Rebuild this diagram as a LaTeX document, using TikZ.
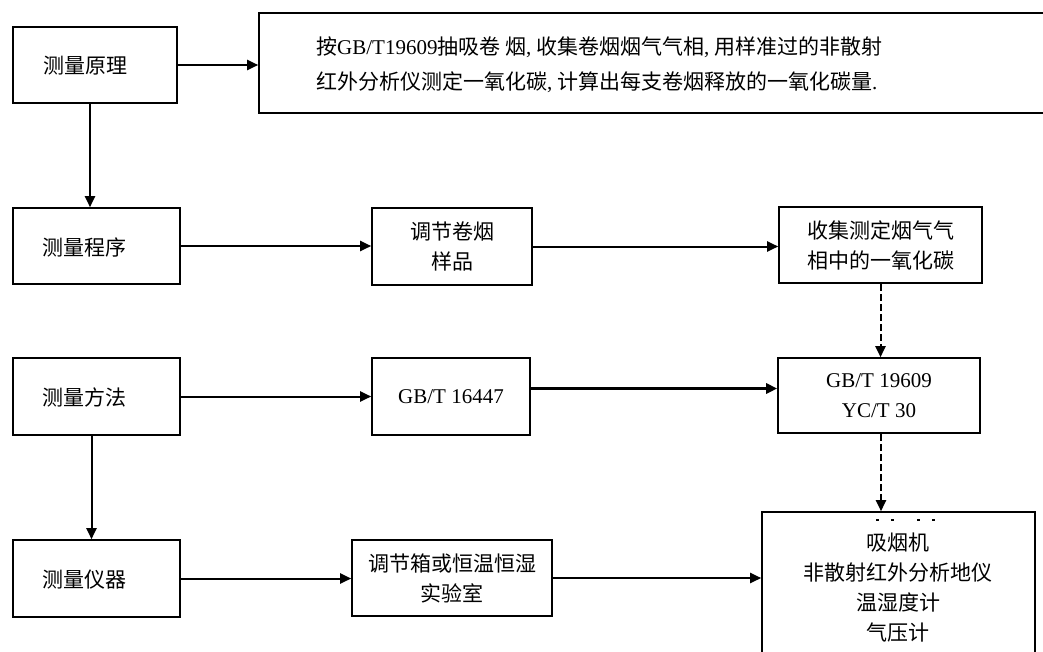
\documentclass[tikz,border=0pt]{standalone}
\usepackage{fontspec}
\setmainfont{Liberation Serif}
\newfontfamily\cjk{Noto Sans CJK SC}
\newcommand\lat[1]{{\rmfamily #1}}
\usetikzlibrary{arrows.meta}
\tikzset{
  boxnode/.style={draw, line width=1.6pt, inner sep=0pt, align=center,
    font=\cjk\fontsize{21}{30}\selectfont},
  txt/.style={inner sep=0pt, align=center, font=\cjk\fontsize{21}{30}\selectfont},
  conn/.style={line width=2pt, -{Triangle[length=11pt,width=10pt]}},
  dashconn/.style={conn, dash pattern=on 7pt off 3pt},
  thickconn/.style={line width=3.4pt, -{Triangle[length=11pt,width=10pt]}}
}
\begin{document}
\begin{tikzpicture}[x=1pt,y=-1pt]
\useasboundingbox (0,0) rectangle (1043,651);
\clip (0,0) rectangle (1043,651);
\fill[white] (0,0) rectangle (1043,651);

% left column
\node[boxnode, minimum width=164pt, minimum height=76pt] (p1) at (95,65) {};
\node[txt] (p1t) at (85,66) {测量原理};
\node[boxnode, minimum width=167pt, minimum height=76pt] (p2) at (96.5,246) {};
\node[txt] (p2t) at (84,247) {测量程序};
\node[boxnode, minimum width=167pt, minimum height=77pt] (p3) at (96.5,396.5) {};
\node[txt] (p3t) at (84,397) {测量方法};
\node[boxnode, minimum width=167pt, minimum height=77pt] (p4) at (96.5,578.5) {};
\node[txt] (p4t) at (84,580) {测量仪器};

% top wide box
\node[boxnode, minimum width=791pt, minimum height=100pt] (pr) at (654.5,63) {};
\node[txt, anchor=west, align=left, font=\cjk\fontsize{21}{35}\selectfont] (prt) at (316,65)
  {按\lat{GB/T19609}抽吸卷 烟\lat{,} 收集卷烟烟气气相\lat{,} 用样准过的非散射\\
   红外分析仪测定一氧化碳\lat{,} 计算出每支卷烟释放的一氧化碳量\lat{.}};

% middle column
\node[boxnode, minimum width=160pt, minimum height=77pt] (b1) at (452,246.5) {调节卷烟\\样品};
\node[boxnode, minimum width=158pt, minimum height=77pt] (b3) at (451,396.5) {\lat{GB/T 16447}};
\node[boxnode, minimum width=200pt, minimum height=76pt] (b5) at (452,578) {调节箱或恒温恒湿\\实验室};

% right column
\node[boxnode, minimum width=203pt, minimum height=76pt] (b2) at (880.5,245) {收集测定烟气气\\相中的一氧化碳};
\node[boxnode, minimum width=202pt, minimum height=75pt] (b4) at (879,395.5) {\lat{GB/T 19609}\\\lat{YC/T 30}};
\node[boxnode, minimum width=273pt, minimum height=158pt] (b6) at (898.5,591) {};
\node[txt] (b6t) at (898,588) {吸烟机\\非散射红外分析地仪\\温湿度计\\气压计};
\foreach \xx in {876,891,917,932} \fill (\xx,519) rectangle ++(3,1.5);

% connectors
\draw[conn] (p1.east) -- (p1.east -| pr.west);
\draw[conn] ([xshift=-5pt]p1.south) -- ([xshift=-5pt]p1.south |- p2.north);
\draw[conn] (p2.east) -- (p2.east -| b1.west);
\draw[conn] (b1.east) -- (b1.east -| b2.west);
\draw[dashconn] (b2.south) -- (b2.south |- b4.north);
\draw[conn] (p3.east) -- (p3.east -| b3.west);
\draw[thickconn] ([yshift=8pt]b3.east) -- ([yshift=8pt]b3.east -| b4.west);
\draw[dashconn] ([xshift=2pt]b4.south) -- ([xshift=2pt]b4.south |- b6.north);
\draw[conn] ([xshift=-5pt]p3.south) -- ([xshift=-5pt]p3.south |- p4.north);
\draw[conn] (p4.east) -- (p4.east -| b5.west);
\draw[conn] (b5.east) -- (b5.east -| b6.west);
\end{tikzpicture}
\end{document}
